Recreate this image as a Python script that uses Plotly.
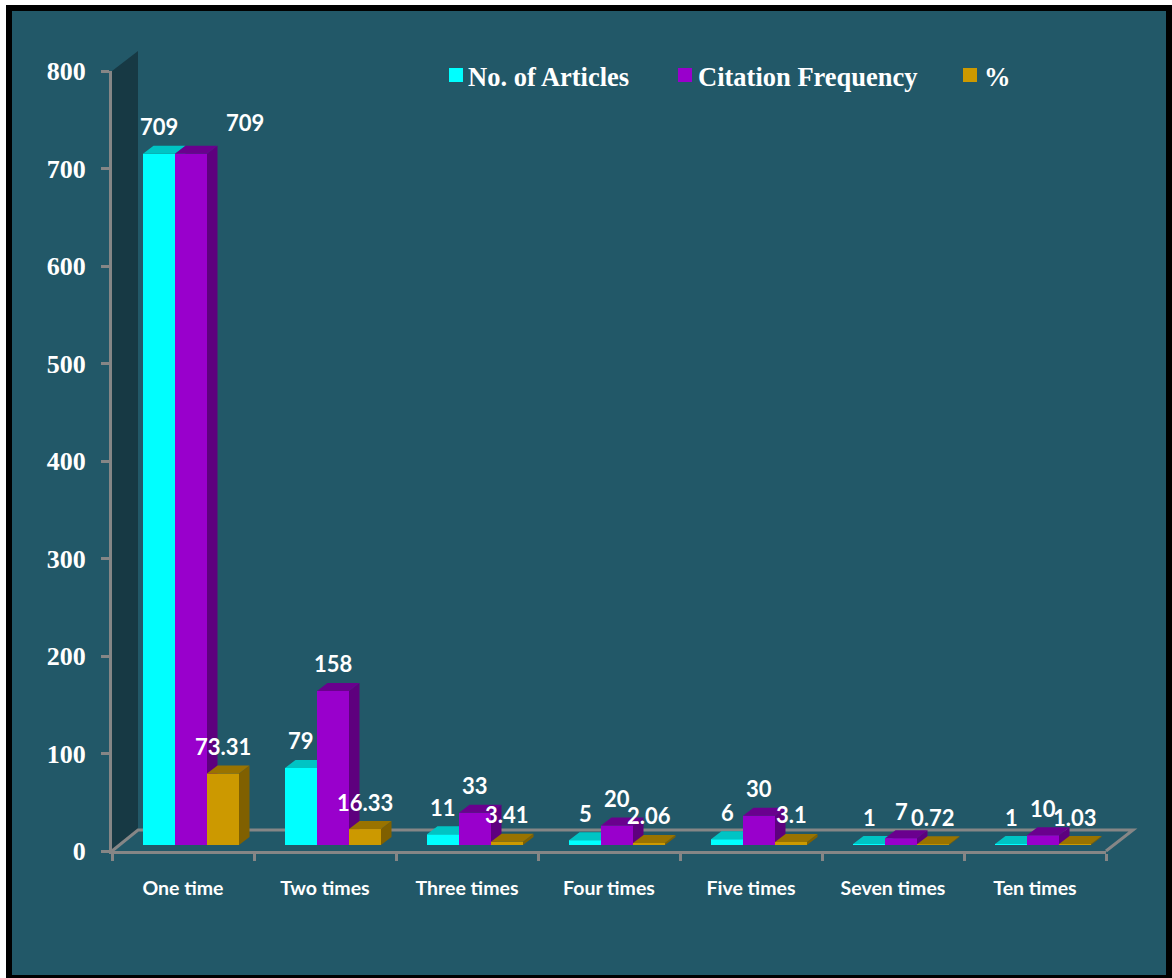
import plotly.graph_objects as go

# Citation data by number of citations per article
categories = ["One time", "Two times", "Three times", "Four times", "Five times", "Seven times", "Ten times"]
no_of_articles = [709, 79, 11, 5, 6, 1, 1]
citation_frequency = [709, 158, 33, 20, 30, 7, 10]
percentage = [73.31, 16.33, 3.41, 2.06, 3.1, 0.72, 1.03]
series_names = ["No. of Articles", "Citation Frequency", "%"]
y_ticks = [0, 100, 200, 300, 400, 500, 600, 700, 800]

# Canvas and plot rectangle, in pixels
W, H = 1172, 978
LEFT, RIGHT, TOP, BOTTOM = 112, 1106, 71, 851
X_UNIT = (RIGHT - LEFT) / len(categories)
Y_UNIT = (BOTTOM - TOP) / 800

# Pseudo-3D projection, expressed in axis units
DEPTH_X = 10.5 / X_UNIT
DEPTH_Y = 8 / Y_UNIT
BAR_BASE = 6 / Y_UNIT
BAR_WIDTH = 32 / X_UNIT
GROUP_START = -40 / X_UNIT
FLOOR_DX, FLOOR_DY = 26, 21

BG = "#225868"
WALL = "#173944"
AXIS = "#868686"
styles = [
    dict(front="#00FFFF", top="#00C4C4", side="#009A9A"),
    dict(front="#9900CC", top="#6A008E", side="#5E007E"),
    dict(front="#CC9900", top="#997300", side="#806000"),
]
series_values = [no_of_articles, citation_frequency, percentage]
X_RANGE = [-0.5, len(categories) - 0.5]
Y_RANGE = [0, 800]


def px(x, y):
    """Pixel position to paper coordinates."""
    return (x - LEFT) / (RIGHT - LEFT), (BOTTOM - y) / (BOTTOM - TOP)


def paper_rect(x0, y0, x1, y1, color):
    a, b = px(x0, y0)
    c, d = px(x1, y1)
    return dict(type="rect", xref="paper", yref="paper", x0=a, y0=b, x1=c, y1=d,
                fillcolor=color, line=dict(width=0), layer="below")


def paper_path(points, closed=False):
    coords = [px(*p) for p in points]
    return "M" + "L".join(f"{a},{b}" for a, b in coords) + ("Z" if closed else "")


def polygons(faces):
    xs, ys = [], []
    for face in faces:
        xs += [p[0] for p in face] + [face[0][0], None]
        ys += [p[1] for p in face] + [face[0][1], None]
    return xs, ys


fig = go.Figure()

# Each series sits on its own overlaying y axis so that later series paint over earlier ones
for s, (name, values, style) in enumerate(zip(series_names, series_values, styles)):
    yaxis = "y" if s == 0 else f"y{s + 1}"
    offset = GROUP_START + s * BAR_WIDTH
    fig.add_trace(go.Bar(
        x=list(range(len(categories))), y=values, base=[BAR_BASE] * len(values),
        width=BAR_WIDTH, offset=offset, name=name, yaxis=yaxis,
        marker=dict(color=style["front"], line=dict(width=0)), showlegend=False))

    side_faces, top_faces = [], []
    for c, v in enumerate(values):
        x0 = c + offset
        x1 = x0 + BAR_WIDTH
        y0 = BAR_BASE
        y1 = BAR_BASE + v
        side_faces.append([(x1, y0), (x1 + DEPTH_X, y0 + DEPTH_Y), (x1 + DEPTH_X, y1 + DEPTH_Y), (x1, y1)])
        top_faces.append([(x0, y1), (x1, y1), (x1 + DEPTH_X, y1 + DEPTH_Y), (x0 + DEPTH_X, y1 + DEPTH_Y)])
    for faces, color in ((side_faces, style["side"]), (top_faces, style["top"])):
        xs, ys = polygons(faces)
        fig.add_trace(go.Scatter(x=xs, y=ys, yaxis=yaxis, fill="toself", fillcolor=color,
                                 mode="none", showlegend=False, hoverinfo="skip"))

# Value labels above each bar
annotations = []
label_font = dict(family="Lato", size=22, color="white", weight="bold")
for s, values in enumerate(series_values):
    for c, v in enumerate(values):
        shift_x, shift_y = (54, 31) if (s, c) == (1, 0) else (0, 27)
        annotations.append(dict(
            x=c + GROUP_START + (s + 0.5) * BAR_WIDTH, y=BAR_BASE + v, xref="x", yref="y",
            text=str(v), showarrow=False, xshift=shift_x, yshift=shift_y,
            xanchor="center", yanchor="middle", font=label_font))

# Page frame, side wall and floor outline of the 3D box
shapes = [
    paper_rect(6, 5, W + 2, H + 2, "black"),
    paper_rect(12, 11, 1166, 975, BG),
    dict(type="path", xref="paper", yref="paper", layer="below", fillcolor=WALL, line=dict(width=0),
         path=paper_path([(LEFT, TOP), (LEFT + FLOOR_DX, TOP - FLOOR_DY + 1),
                          (LEFT + FLOOR_DX, BOTTOM - FLOOR_DY), (LEFT, BOTTOM)], closed=True)),
    dict(type="path", xref="paper", yref="paper", layer="below", line=dict(color=AXIS, width=3),
         path=paper_path([(LEFT, BOTTOM), (LEFT + FLOOR_DX, BOTTOM - FLOOR_DY),
                          (RIGHT + 27, BOTTOM - FLOOR_DY), (RIGHT, BOTTOM)])),
]

# Hand-placed legend row
legend_swatches = [449, 678, 963]
legend_texts = [468, 698, 984]
legend_font = dict(family="Liberation Serif", size=26.5, color="white", weight="bold")
for name, style, sx, tx in zip(series_names, styles, legend_swatches, legend_texts):
    shapes.append(paper_rect(sx, 68, sx + 14, 82, style["front"]))
    a, b = px(tx, 77)
    annotations.append(dict(x=a, y=b, xref="paper", yref="paper", text=name, showarrow=False,
                            xanchor="left", yanchor="middle", font=legend_font, xshift=-2))

hidden_y = dict(range=Y_RANGE, overlaying="y", visible=False, fixedrange=True)
fig.update_layout(
    width=W, height=H, autosize=False,
    margin=dict(l=LEFT, r=W - RIGHT, t=TOP, b=H - BOTTOM, pad=0),
    paper_bgcolor="white", plot_bgcolor="rgba(0,0,0,0)",
    barmode="overlay", showlegend=False,
    shapes=shapes, annotations=annotations,
    xaxis=dict(range=X_RANGE, tickmode="array", tickvals=list(range(len(categories))), ticktext=categories,
               ticks="", showgrid=False, zeroline=False, showline=True, linecolor=AXIS, linewidth=3,
               ticklabelstandoff=18,
               tickfont=dict(family="Lato", size=19.5, color="white", weight="bold"),
               minor=dict(tickmode="array", tickvals=[i - 0.5 for i in range(len(categories) + 1)],
                          ticks="outside", ticklen=7, tickwidth=3, tickcolor=AXIS, showgrid=False)),
    yaxis=dict(range=Y_RANGE, tickmode="array", tickvals=y_ticks, ticks="outside", ticklen=8, tickwidth=3,
               tickcolor=AXIS, showgrid=False, zeroline=False, showline=True, linecolor=AXIS, linewidth=3,
               ticklabelstandoff=10,
               tickfont=dict(family="Liberation Serif", size=26, color="white", weight="bold")),
    yaxis2=hidden_y, yaxis3=hidden_y,
)

fig.write_html("out.html", config=dict(displayModeBar=False))
